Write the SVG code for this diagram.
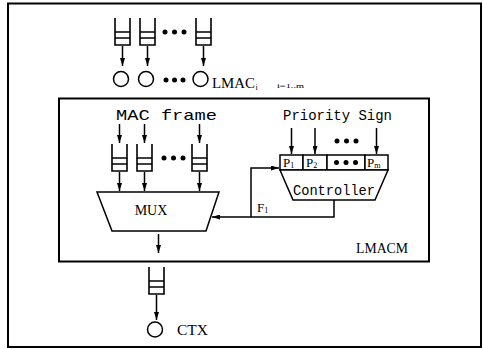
<svg xmlns="http://www.w3.org/2000/svg" width="483" height="349" viewBox="0 0 483 349">
<style>
.ln{fill:none;stroke:#000;stroke-width:1.5}
.bx{fill:#fff;stroke:#000;stroke-width:1.5}
.fr{fill:none;stroke:#000;stroke-width:2}
.dot{fill:#000}
.ser{font-family:"Liberation Serif","DejaVu Serif",serif;fill:#000}
.mono{font-family:"Liberation Mono","DejaVu Sans Mono",monospace;fill:#000}
.ar{fill:none;stroke:#000;stroke-width:1.5;marker-end:url(#ah)}
</style>
<defs>
<marker id="ah" markerUnits="userSpaceOnUse" markerWidth="8" markerHeight="5" refX="8" refY="2.5" orient="auto">
<path d="M0,0 L8,2.5 L0,5 z" fill="#000"/>
</marker>
<path id="q" d="M0,0 V27 H15 V0 M0,14 H15 M0,20 H15" fill="none" stroke="#000" stroke-width="1.6"/>
</defs>
<rect id="outer" x="8" y="3.5" width="473" height="343.5" class="fr"/>

<g id="top-queues">
<use href="#q" x="115" y="18"/>
<use href="#q" x="140" y="18"/>
<use href="#q" x="196" y="18"/>
<circle cx="165" cy="32" r="2.5" class="dot"/><circle cx="174.5" cy="32" r="2.5" class="dot"/><circle cx="184" cy="32" r="2.5" class="dot"/>
</g>
<g id="lmac">
<circle cx="121" cy="79" r="7.5" class="bx"/>
<circle cx="146" cy="79" r="7.5" class="bx"/>
<circle cx="200.5" cy="79" r="7.5" class="bx"/>
<circle cx="166" cy="80" r="2.5" class="dot"/><circle cx="174.5" cy="80" r="2.5" class="dot"/><circle cx="183" cy="80" r="2.5" class="dot"/>
<text x="212" y="88" class="ser" font-size="14" textLength="43" lengthAdjust="spacingAndGlyphs">LMAC</text>
<text x="255.5" y="90" class="ser" font-size="8">i</text>
<text x="277" y="88" class="ser" font-size="7" textLength="27" lengthAdjust="spacingAndGlyphs">i=1..m</text>
</g>

<g id="lmacm">
<rect x="59" y="98.5" width="370" height="163" class="fr"/>
<text x="356" y="253" class="ser" font-size="14" textLength="52" lengthAdjust="spacingAndGlyphs">LMACM</text>
</g>

<g id="mac-frame">
<text x="116" y="120" class="mono" font-size="15" textLength="101" lengthAdjust="spacingAndGlyphs">MAC frame</text>
</g>
<g id="mac-queues">
<use href="#q" x="112" y="144"/>
<use href="#q" x="137" y="144"/>
<use href="#q" x="192" y="144"/>
<circle cx="164" cy="158" r="2.5" class="dot"/><circle cx="173.5" cy="158" r="2.5" class="dot"/><circle cx="183" cy="158" r="2.5" class="dot"/>
</g>
<g id="mux">
<path d="M97,192 H219 L206,231 H112 Z" class="bx"/>
<text x="151" y="215" class="ser" font-size="14" text-anchor="middle">MUX</text>
</g>

<g id="priority-sign">
<text x="283" y="120" class="mono" font-size="14" textLength="109" lengthAdjust="spacingAndGlyphs">Priority Sign</text>
<circle cx="337" cy="141" r="2.5" class="dot"/><circle cx="346.5" cy="141" r="2.5" class="dot"/><circle cx="356" cy="141" r="2.5" class="dot"/>
</g>
<g id="controller">
<rect x="280" y="155" width="23" height="15" class="bx"/>
<rect x="303" y="155" width="24" height="15" class="bx"/>
<rect x="327" y="155" width="38" height="15" class="bx"/>
<rect x="365" y="155" width="23" height="15" class="bx"/>
<text x="283" y="167" class="ser" font-size="13">P<tspan font-size="8" dy="1">1</tspan></text>
<text x="306" y="167" class="ser" font-size="13">P<tspan font-size="8" dy="1">2</tspan></text>
<text x="367" y="167" class="ser" font-size="13">P<tspan font-size="8" dy="1">m</tspan></text>
<circle cx="336.5" cy="162.5" r="2.5" class="dot"/><circle cx="346" cy="162.5" r="2.5" class="dot"/><circle cx="355.5" cy="162.5" r="2.5" class="dot"/>
<path d="M280,170 H388 L375,200 H293 Z" class="bx"/>
<text x="293" y="195" class="mono" font-size="14" textLength="82" lengthAdjust="spacingAndGlyphs">Controller</text>
</g>

<g id="ctx">
<use href="#q" x="149" y="267"/>
<circle cx="155" cy="329.5" r="7.5" class="bx"/>
<text x="177" y="335" class="ser" font-size="14" textLength="31" lengthAdjust="spacingAndGlyphs">CTX</text>
</g>

<g id="connectors">
<path d="M122.5,46 V66" class="ar"/>
<path d="M147.5,46 V66" class="ar"/>
<path d="M203.5,46 V66" class="ar"/>
<path d="M119.5,124 V143" class="ar"/>
<path d="M144.5,124 V143" class="ar"/>
<path d="M199.5,124 V143" class="ar"/>
<path d="M119.5,172 V191" class="ar"/>
<path d="M144.5,172 V191" class="ar"/>
<path d="M199.5,172 V191" class="ar"/>
<path d="M291.5,128 V154" class="ar"/>
<path d="M315,128 V154" class="ar"/>
<path d="M376.5,128 V154" class="ar"/>
<path d="M334,200 V217 H212" class="ar"/>
<path d="M251,217 V168 H279" class="ar"/>
<path d="M158.5,234 V253" class="ar"/>
<path d="M156.5,295 V320" class="ar"/>
<text x="257" y="212" class="ser" font-size="13">F<tspan font-size="8" dy="1">1</tspan></text>
</g>
</svg>
